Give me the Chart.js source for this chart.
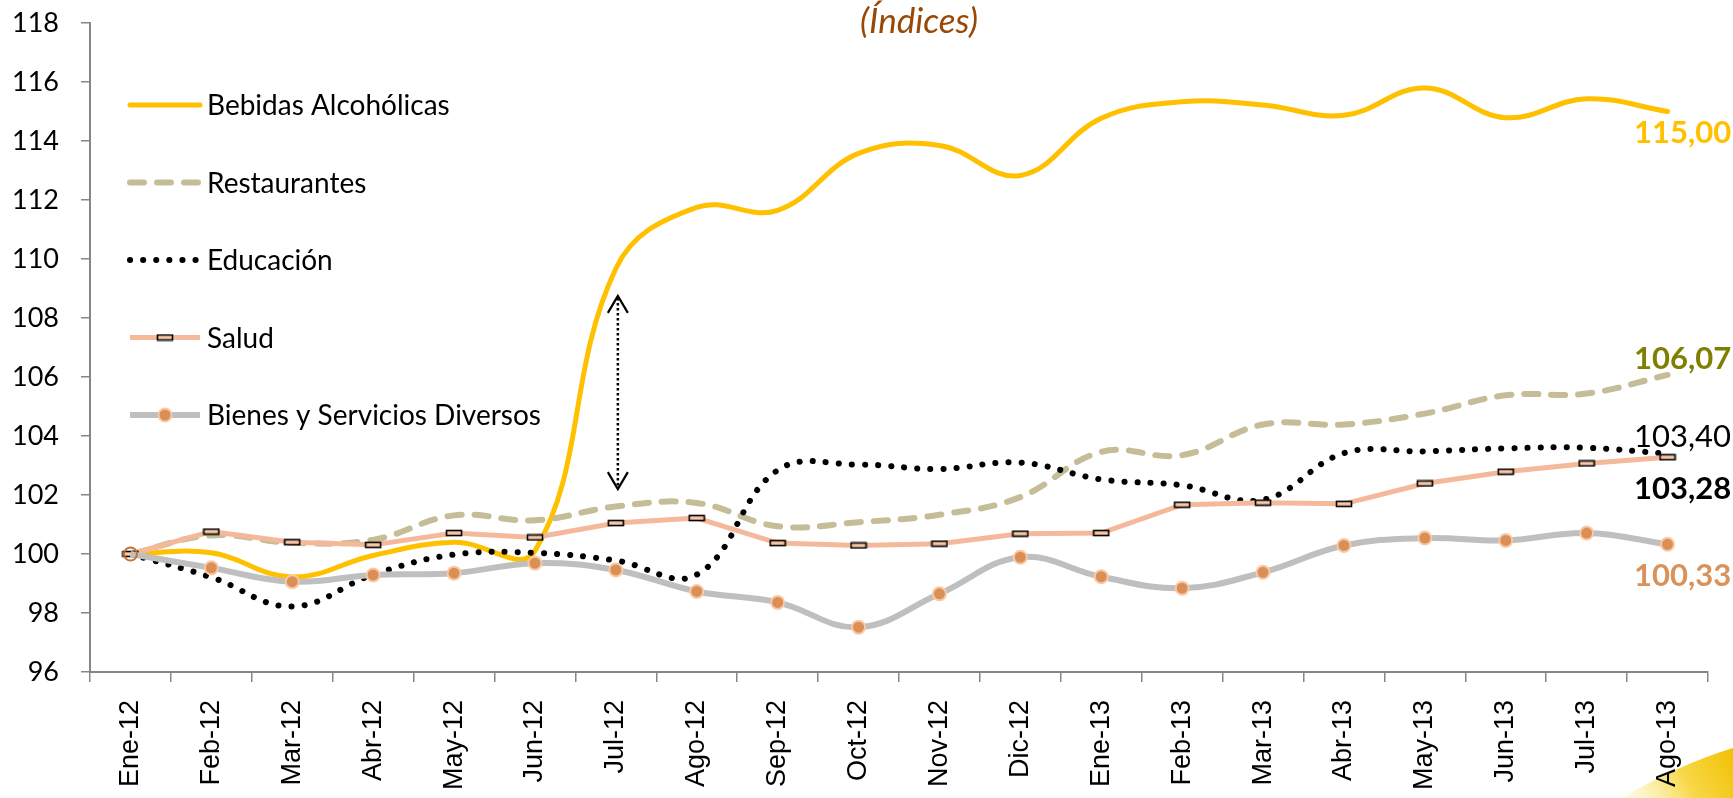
<!DOCTYPE html>
<html>
<head>
<meta charset="utf-8">
<script src="https://cdn.jsdelivr.net/npm/chart.js@4.4.0/dist/chart.umd.min.js"></script>
<style>
  html, body { margin: 0; padding: 0; background: #fff; }
  #wrap { width: 1733px; height: 798px; }
</style>
</head>
<body>
<div id="wrap"><canvas id="indices" width="1733" height="798"></canvas></div>
<script>
// --- datos (índices, Ene-12 = 100) ---
const meses = ["Ene-12", "Feb-12", "Mar-12", "Abr-12", "May-12", "Jun-12", "Jul-12", "Ago-12", "Sep-12", "Oct-12",
  "Nov-12", "Dic-12", "Ene-13", "Feb-13", "Mar-13", "Abr-13", "May-13", "Jun-13", "Jul-13", "Ago-13"];

const bebidas = [100.00, 100.04, 99.22, 99.95, 100.40, 100.10, 109.68, 111.75, 111.65, 113.58,
  113.85, 112.83, 114.77, 115.33, 115.22, 114.87, 115.80, 114.79, 115.43, 115.00];
const restaurantes = [100.00, 100.63, 100.38, 100.48, 101.31, 101.14, 101.61, 101.73, 100.94, 101.08,
  101.33, 101.93, 103.46, 103.35, 104.39, 104.39, 104.76, 105.38, 105.44, 106.07];
const educacion = [100.00, 99.21, 98.22, 99.30, 99.98, 100.04, 99.78, 99.30, 102.84, 103.03,
  102.88, 103.10, 102.53, 102.33, 101.84, 103.42, 103.48, 103.58, 103.60, 103.40];
const salud = [100.00, 100.76, 100.40, 100.31, 100.71, 100.56, 101.05, 101.22, 100.37, 100.29,
  100.35, 100.69, 100.71, 101.67, 101.74, 101.70, 102.39, 102.79, 103.07, 103.28];
const bienes = [100.00, 99.53, 99.06, 99.29, 99.35, 99.69, 99.46, 98.73, 98.36, 97.52,
  98.65, 99.89, 99.23, 98.84, 99.38, 100.29, 100.54, 100.46, 100.71, 100.33];

const yMin = 96, yMax = 118, yPaso = 2;
const etiquetasFinales = ["115,00", "106,07", "103,40", "103,28", "100,33"];
const flechaJul = [108.75, 102.2]; // flecha punteada en Jul-12

// marcador rectangular de Salud
const marcaSalud = document.createElement("canvas");
marcaSalud.width = 18; marcaSalud.height = 8;
(function () {
  const c = marcaSalud.getContext("2d");
  c.fillStyle = "#F8C8A8";
  c.fillRect(1, 1, 16, 6);
  c.strokeStyle = "#000";
  c.lineWidth = 1.6;
  c.strokeRect(1.5, 1.5, 15, 5);
})();

const fuente = "Lato, 'Open Sans', sans-serif";

const extras = {
  id: "extras",
  beforeDraw(chart) {
    const c = chart.ctx;
    c.save();
    c.fillStyle = "#ffffff";
    c.fillRect(0, 0, chart.width, chart.height);
    // adorno amarillo de la esquina
    const g = c.createLinearGradient(1630, 798, 1733, 745);
    g.addColorStop(0, "rgba(255,243,190,0.5)");
    g.addColorStop(0.5, "#F8D84A");
    g.addColorStop(1, "#F0C000");
    c.fillStyle = g;
    c.beginPath();
    c.moveTo(1622, 798);
    c.quadraticCurveTo(1680, 764, 1733, 748);
    c.lineTo(1733, 798);
    c.closePath();
    c.fill();
    c.restore();
  },
  afterDraw(chart) {
    const c = chart.ctx;
    const xs = chart.scales.x, ys = chart.scales.y;
    c.save();

    // título
    c.font = "italic 35px " + fuente;
    c.fillStyle = "#984807";
    c.textAlign = "center";
    c.textBaseline = "middle";
    c.fillText("(Índices)", 919, 22);

    // leyenda
    c.textAlign = "left";
    c.font = "28px " + fuente;
    chart.data.datasets.forEach((ds, i) => {
      const y = 105 + i * 77.5;
      c.save();
      c.strokeStyle = ds.borderColor;
      c.lineWidth = ds.borderWidth;
      c.lineCap = ds.borderCapStyle || "butt";
      c.setLineDash(ds.borderDash || []);
      c.beginPath();
      c.moveTo(130, y);
      c.lineTo(200, y);
      c.stroke();
      c.restore();
      if (ds.pointStyle === marcaSalud) {
        c.drawImage(marcaSalud, 165 - 9, y - 4);
      } else if (ds.pointRadius > 0) {
        c.beginPath();
        c.arc(165, y, ds.pointRadius, 0, Math.PI * 2);
        c.fillStyle = "#DA8F54";
        c.fill();
        c.lineWidth = ds.pointBorderWidth;
        c.strokeStyle = "#F9C9A7";
        c.stroke();
      }
      c.fillStyle = "#000";
      c.fillText(ds.label, 207, y + 1);
    });

    // flecha punteada doble
    const ax = xs.getPixelForValue(6) + 2;
    const y1 = ys.getPixelForValue(flechaJul[0]);
    const y2 = ys.getPixelForValue(flechaJul[1]);
    c.strokeStyle = "#000";
    c.lineWidth = 2.5;
    c.setLineDash([2.5, 2.5]);
    c.beginPath();
    c.moveTo(ax, y1 + 2);
    c.lineTo(ax, y2 - 2);
    c.stroke();
    c.setLineDash([]);
    c.lineWidth = 2.2;
    c.beginPath();
    c.moveTo(ax - 10, y1 + 17); c.lineTo(ax, y1); c.lineTo(ax + 10, y1 + 17);
    c.moveTo(ax - 10, y2 - 17); c.lineTo(ax, y2); c.lineTo(ax + 10, y2 - 17);
    c.stroke();

    // etiquetas del último valor
    const ult = meses.length - 1;
    const lx = xs.getPixelForValue(ult) + 15;
    const estilos = [
      { ds: 0, color: "#FFC000", peso: "bold", dy: 21 },
      { ds: 1, color: "#7F7F00", peso: "bold", dy: -16 },
      { ds: 2, color: "#000000", peso: "normal", dy: -17 },
      { ds: 3, color: "#000000", peso: "bold", dy: 32 },
      { ds: 4, color: "#D9925A", peso: "bold", dy: 32 },
    ];
    c.textAlign = "center";
    estilos.forEach((e, i) => {
      const v = chart.data.datasets[e.ds].data[ult];
      c.font = e.peso + " 31px " + fuente;
      c.fillStyle = e.color;
      c.fillText(etiquetasFinales[i], lx, ys.getPixelForValue(v) + e.dy);
    });
    c.restore();
  }
};

const ctx = document.getElementById("indices").getContext("2d");
new Chart(ctx, {
  type: "line",
  data: {
    labels: meses,
    datasets: [
      {
        label: "Bebidas Alcohólicas",
        data: bebidas,
        borderColor: "#FFC000",
        borderWidth: 5,
        borderCapStyle: "round",
        pointRadius: 0,
        tension: 0.4,
        order: 5,
      },
      {
        label: "Restaurantes",
        data: restaurantes,
        borderColor: "#C4BD97",
        borderWidth: 6,
        borderDash: [14, 13],
        borderCapStyle: "round",
        pointRadius: 0,
        tension: 0.4,
        order: 4,
      },
      {
        label: "Educación",
        data: educacion,
        borderColor: "#000000",
        borderWidth: 6,
        borderDash: [0.1, 13],
        borderCapStyle: "round",
        pointRadius: 0,
        tension: 0.4,
        order: 3,
      },
      {
        label: "Salud",
        data: salud,
        borderColor: "#F4B99A",
        borderWidth: 5,
        pointStyle: marcaSalud,
        pointRadius: 6,
        tension: 0,
        order: 2,
      },
      {
        label: "Bienes y Servicios Diversos",
        data: bienes,
        borderColor: "#BFBFBF",
        borderWidth: 6,
        pointRadius: 6.5,
        pointBorderWidth: 2,
        pointBackgroundColor: bienes.map((v, i) => (i === 0 ? "rgba(0,0,0,0)" : "#DA8F54")),
        pointBorderColor: bienes.map((v, i) => (i === 0 ? "#C8702C" : "#F9C9A7")),
        tension: 0.4,
        order: 1,
      },
    ],
  },
  options: {
    responsive: false,
    animation: false,
    layout: { padding: { top: 23, right: 25, left: 0, bottom: 0 } },
    scales: {
      x: {
        offset: true,
        grid: { offset: true, drawOnChartArea: false, drawTicks: true, tickLength: 10, color: "#868686", lineWidth: 1.5 },
        border: { display: true, color: "#868686", width: 2 },
        ticks: {
          color: "#000",
          autoSkip: false,
          minRotation: 90,
          maxRotation: 90,
          padding: 18,
          font: { family: "'Liberation Sans', Arial, sans-serif", size: 27 },
        },
        afterFit: (s) => { s.height = 126; s.paddingLeft = 0; s.paddingRight = 0; },
      },
      y: {
        min: yMin,
        max: yMax,
        grid: { drawOnChartArea: false, drawTicks: true, tickLength: 9, color: "#868686", lineWidth: 1.5 },
        border: { display: true, color: "#868686", width: 2 },
        ticks: {
          stepSize: yPaso,
          color: "#000",
          padding: 22,
          font: { family: fuente, size: 27 },
        },
        afterFit: (s) => { s.width = 90; s.paddingTop = 0; s.paddingBottom = 0; },
      },
    },
    plugins: {
      legend: { display: false },
      title: { display: false },
      tooltip: { enabled: false },
    },
  },
  plugins: [extras],
});
</script>
</body>
</html>
